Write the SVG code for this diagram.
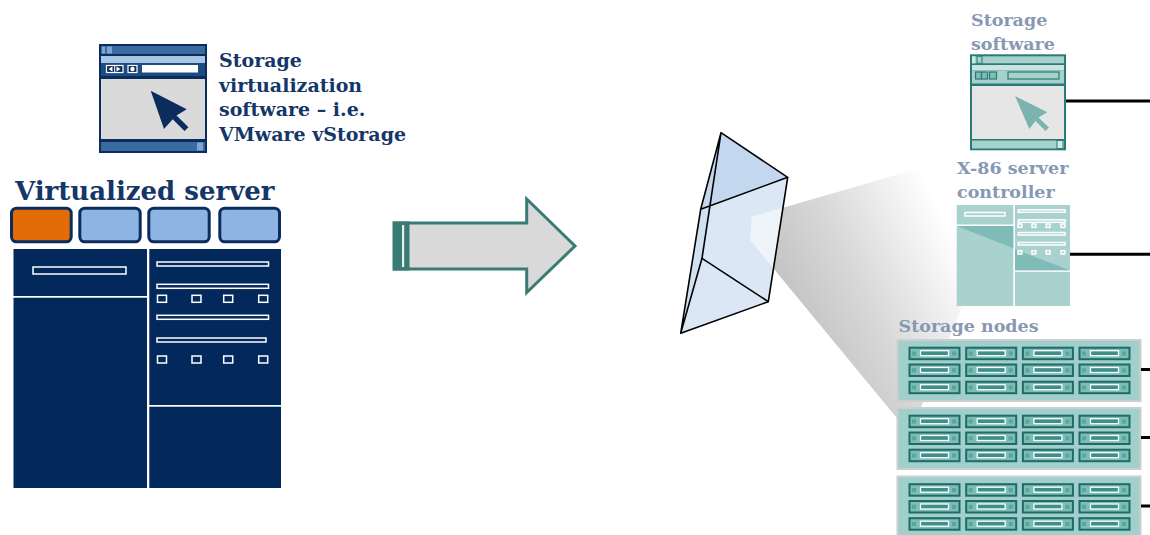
<svg xmlns="http://www.w3.org/2000/svg" xmlns:xlink="http://www.w3.org/1999/xlink" width="1150" height="535" viewBox="0 0 1150 535">
  <style>
    .lbl { font-family: "DejaVu Serif", "Liberation Serif", serif; font-weight: bold; }
    .navy { fill: #143668; }
    .grey { fill: #8798b3; }
    .edge { fill: none; stroke: #000; stroke-width: 1.6; stroke-linejoin: round; }
    .wire { stroke: #000; stroke-width: 3; }
    .navyPanel { fill: #03285c; }
    .wline { fill: #03285c; stroke: #fff; stroke-width: 1.5; }
    .tline { fill: #a9d2cf; stroke: #fff; stroke-width: 1.5; }
    .tab { stroke: #0b2d5e; stroke-width: 3; }
  </style>
  <defs>
    <linearGradient id="beamGrad" gradientUnits="userSpaceOnUse" x1="790" y1="300" x2="948" y2="224">
      <stop offset="0" stop-color="#c4c4c4"/>
      <stop offset="0.4" stop-color="#d8d8d8"/>
      <stop offset="1" stop-color="#ffffff"/>
    </linearGradient>
    <!-- one disk drive bay -->
    <g id="drive">
      <rect x="1" y="1" width="50" height="11.5" fill="#7dbcb7" stroke="#1e6c67" stroke-width="2"/>
      <rect x="3.5" y="4.8" width="4" height="4" fill="#5aa59f"/>
      <rect x="12" y="4" width="28" height="5" fill="#3f8f89" stroke="#fff" stroke-width="1.3"/>
      <rect x="43.5" y="4.8" width="4" height="4" fill="#5aa59f"/>
    </g>
    <!-- one storage shelf with 4 x 3 drives -->
    <g id="rack">
      <rect x="0" y="0" width="243" height="61" fill="#a1cfcb" stroke="#cbcfcf" stroke-width="2"/>
      <use xlink:href="#drive" x="11" y="6.7"/>
      <use xlink:href="#drive" x="67.7" y="6.7"/>
      <use xlink:href="#drive" x="124.4" y="6.7"/>
      <use xlink:href="#drive" x="181" y="6.7"/>
      <use xlink:href="#drive" x="11" y="23.5"/>
      <use xlink:href="#drive" x="67.7" y="23.5"/>
      <use xlink:href="#drive" x="124.4" y="23.5"/>
      <use xlink:href="#drive" x="181" y="23.5"/>
      <use xlink:href="#drive" x="11" y="40.7"/>
      <use xlink:href="#drive" x="67.7" y="40.7"/>
      <use xlink:href="#drive" x="124.4" y="40.7"/>
      <use xlink:href="#drive" x="181" y="40.7"/>
    </g>
  </defs>

  <rect width="1150" height="535" fill="#fff"/>

  <!-- light beam leaving the prism -->
  <g id="beam">
    <polygon points="783,207.7 965,155 965,300 910,434 773.5,268.4" fill="url(#beamGrad)"/>
  </g>

  <!-- virtualization software window (navy) -->
  <g id="vsoftware">
    <rect x="99" y="44" width="108" height="109" fill="#0b2d5e"/>
    <rect x="101" y="46" width="104" height="8" fill="#3a6aa0"/>
    <rect x="102" y="46.5" width="3" height="7" fill="#7ea6d4"/>
    <rect x="107" y="46.5" width="5" height="7" fill="#7ea6d4"/>
    <rect x="101" y="56" width="104" height="7" fill="#a9c6e6"/>
    <rect x="101" y="63" width="104" height="13" fill="#1d4c82"/>
    <rect x="106.5" y="65.5" width="16.5" height="7" fill="#0b2d5e" stroke="#fff" stroke-width="1.2"/>
    <line x1="114.7" y1="65.5" x2="114.7" y2="72.5" stroke="#fff" stroke-width="1"/>
    <polygon points="108.5,69 112.5,66.5 112.5,71.5" fill="#fff"/>
    <polygon points="120.5,69 116.5,66.5 116.5,71.5" fill="#fff"/>
    <rect x="128" y="65.5" width="9" height="7" fill="#0b2d5e" stroke="#fff" stroke-width="1.2"/>
    <circle cx="132.5" cy="69" r="2.2" fill="#fff"/>
    <rect x="142" y="65" width="56" height="7.5" fill="#fff"/>
    <rect x="101" y="79" width="104" height="60" fill="#dadada"/>
    <rect x="101" y="142" width="104" height="9" fill="#3a6aa0"/>
    <rect x="197" y="142.5" width="6" height="8" fill="#7ea6d4"/>
    <polygon points="150.7,90.7 186.7,109.3 176.5,115.5 188.5,127.3 184.5,131 172.7,119.3 164,129" fill="#0b2d5e"/>
  </g>
  <text class="lbl navy" font-size="19">
    <tspan x="219" y="67">Storage</tspan>
    <tspan x="219" y="91.5">virtualization</tspan>
    <tspan x="219" y="116">software – i.e.</tspan>
    <tspan x="219" y="140.5">VMware vStorage</tspan>
  </text>

  <!-- virtualized server -->
  <g id="vserver">
    <text class="lbl navy" x="15" y="199.5" font-size="26">Virtualized server</text>
    <rect class="tab" x="11.5" y="208.2" width="59.7" height="33.6" rx="5" fill="#e36c09"/>
    <rect class="tab" x="79.8" y="208.2" width="60.4" height="33.6" rx="5" fill="#8eb4e3"/>
    <rect class="tab" x="148.8" y="208.2" width="60.4" height="33.6" rx="5" fill="#8eb4e3"/>
    <rect class="tab" x="219.8" y="208.2" width="59.7" height="33.6" rx="5" fill="#8eb4e3"/>
    <rect class="navyPanel" x="13.5" y="249" width="133.5" height="47"/>
    <rect class="navyPanel" x="13.5" y="297.7" width="133.5" height="190.3"/>
    <rect class="navyPanel" x="149.3" y="249" width="131.7" height="156"/>
    <rect class="navyPanel" x="149.3" y="406.7" width="131.7" height="81.3"/>
    <rect class="wline" x="33" y="267" width="93" height="7"/>
    <rect class="wline" x="157" y="262" width="111.5" height="4"/>
    <rect class="wline" x="157" y="284.3" width="111.5" height="4"/>
    <rect class="wline" x="157" y="315.3" width="111.5" height="4"/>
    <rect class="wline" x="157" y="338" width="109" height="4"/>
    <rect class="wline" x="157.5" y="295.3" width="9" height="7"/>
    <rect class="wline" x="192" y="295.3" width="9" height="7"/>
    <rect class="wline" x="223.7" y="295.3" width="9" height="7"/>
    <rect class="wline" x="258.7" y="295.3" width="9" height="7"/>
    <rect class="wline" x="157.5" y="356" width="9" height="7"/>
    <rect class="wline" x="192" y="356" width="9" height="7"/>
    <rect class="wline" x="223.7" y="356" width="9" height="7"/>
    <rect class="wline" x="258.7" y="356" width="9" height="7"/>
  </g>

  <!-- transition arrow -->
  <g id="transition">
    <polygon points="394,223 526.7,223 526.7,199 575,246 526.7,292.5 526.7,269 394,269" fill="#d9d9d9" stroke="#3b7b76" stroke-width="3" stroke-linejoin="miter"/>
    <rect x="393" y="221.5" width="16.5" height="49" fill="#3b7b76"/>
    <rect x="402" y="225" width="2.2" height="42" fill="#e8efee"/>
  </g>

  <!-- prism -->
  <g id="prism">
    <polygon points="721,132.7 787.7,177.3 768.3,301.7 680.7,333.3 700.7,209.3" fill="#dbe7f5"/>
    <polygon points="721,132.7 700.7,209.3 680.7,333.3 702,258.3" fill="#d2e1f2"/>
    <polygon points="721,132.7 787.7,177.3 700.7,209.3" fill="#c3d7ee"/>
    <polygon points="751.7,216.7 783,207.7 773.5,268.4 750,240" fill="#fff" fill-opacity="0.55"/>
    <polyline class="edge" points="721,132.7 787.7,177.3 700.7,209.3 721,132.7 702,258.3 680.7,333.3 700.7,209.3"/>
    <polyline class="edge" points="787.7,177.3 768.3,301.7 680.7,333.3"/>
    <line class="edge" x1="702" y1="258.3" x2="768.3" y2="301.7"/>
  </g>

  <!-- storage software window (teal) -->
  <g id="ssoftware">
    <text class="lbl grey" font-size="17.5">
      <tspan x="971" y="26">Storage</tspan>
      <tspan x="971" y="49.5">software</tspan>
    </text>
    <rect x="970" y="54.3" width="96" height="96" fill="#2a7a75"/>
    <rect x="972" y="56.3" width="92" height="7" fill="#a6d1cd"/>
    <rect x="972" y="56.3" width="3" height="7" fill="#cfe7e4"/>
    <rect x="977" y="56.3" width="5" height="7" fill="#a6d1cd" stroke="#2a7a75" stroke-width="1"/>
    <rect x="972" y="65" width="92" height="5.5" fill="#c9e4e1"/>
    <rect x="972" y="70.5" width="92" height="13" fill="#a6d1cd"/>
    <rect x="975.5" y="72" width="6" height="7" fill="#7fbcb7" stroke="#2a7a75" stroke-width="1.2"/>
    <rect x="981.5" y="72" width="6" height="7" fill="#7fbcb7" stroke="#2a7a75" stroke-width="1.2"/>
    <rect x="989.5" y="72" width="7" height="7" fill="#7fbcb7" stroke="#2a7a75" stroke-width="1.2"/>
    <rect x="1008" y="72" width="51" height="7" fill="#a6d1cd" stroke="#2a7a75" stroke-width="1.2"/>
    <rect x="972" y="86" width="92" height="53" fill="#e6e6e6"/>
    <rect x="972" y="140.5" width="92" height="8" fill="#a6d1cd"/>
    <rect x="1057" y="140.5" width="6" height="8" fill="#d6ebe9" stroke="#2a7a75" stroke-width="1"/>
    <polygon points="1015,96 1047.3,112.3 1038.5,117.5 1049,127.5 1045.5,131 1035.5,121 1029.3,129" fill="#7bb3af"/>
  </g>

  <!-- x86 controller -->
  <g id="controller">
    <text class="lbl grey" font-size="17.5">
      <tspan x="957" y="174">X-86 server</tspan>
      <tspan x="957" y="197.5">controller</tspan>
    </text>
    <rect x="956.7" y="205" width="56.6" height="19.5" fill="#a9d2cf"/>
    <rect x="956.7" y="226" width="56.6" height="80" fill="#a9d2cf"/>
    <polygon points="956.7,226 1013.3,226 1013.3,248.3" fill="#80bcb7"/>
    <rect x="1015" y="205" width="55" height="65.3" fill="#a9d2cf"/>
    <rect x="1015" y="271.8" width="55" height="34.2" fill="#a9d2cf"/>
    <polygon points="1015,249.3 1070,270.3 1015,270.3" fill="#80bcb7"/>
    <rect class="tline" x="965" y="212.5" width="40" height="3.5"/>
    <rect class="tline" x="1018.3" y="209.8" width="46.7" height="2.5"/>
    <rect class="tline" x="1018.3" y="219.8" width="46.7" height="2.5"/>
    <rect class="tline" x="1018.3" y="232.5" width="46.7" height="2.5"/>
    <rect class="tline" x="1018.3" y="242.5" width="46.7" height="2.5"/>
    <rect class="tline" x="1018" y="224" width="3.8" height="3.3"/>
    <rect class="tline" x="1032" y="224" width="3.8" height="3.3"/>
    <rect class="tline" x="1046.2" y="224" width="3.8" height="3.3"/>
    <rect class="tline" x="1061" y="224" width="3.8" height="3.3"/>
    <rect class="tline" x="1018" y="250.7" width="3.8" height="3.3" fill="#95c8c4"/>
    <rect class="tline" x="1032" y="250.7" width="3.8" height="3.3" fill="#95c8c4"/>
    <rect class="tline" x="1046.2" y="250.7" width="3.8" height="3.3" fill="#95c8c4"/>
    <rect class="tline" x="1061" y="250.7" width="3.8" height="3.3" fill="#95c8c4"/>
  </g>

  <!-- storage nodes -->
  <g id="nodes">
    <text class="lbl grey" x="898.5" y="332" font-size="17.5">Storage nodes</text>
    <use id="node1" xlink:href="#rack" x="897.5" y="340"/>
    <use id="node2" xlink:href="#rack" x="897.5" y="408"/>
    <use id="node3" xlink:href="#rack" x="897.5" y="476.5"/>
  </g>

  <!-- links to the storage network -->
  <g id="connectors">
    <line class="wire" x1="1066" y1="101" x2="1150" y2="101"/>
    <line class="wire" x1="1070" y1="254.3" x2="1150" y2="254.3"/>
    <line class="wire" x1="1141" y1="369.5" x2="1150" y2="369.5"/>
    <line class="wire" x1="1141" y1="437.5" x2="1150" y2="437.5"/>
    <line class="wire" x1="1141" y1="506" x2="1150" y2="506"/>
  </g>
</svg>
